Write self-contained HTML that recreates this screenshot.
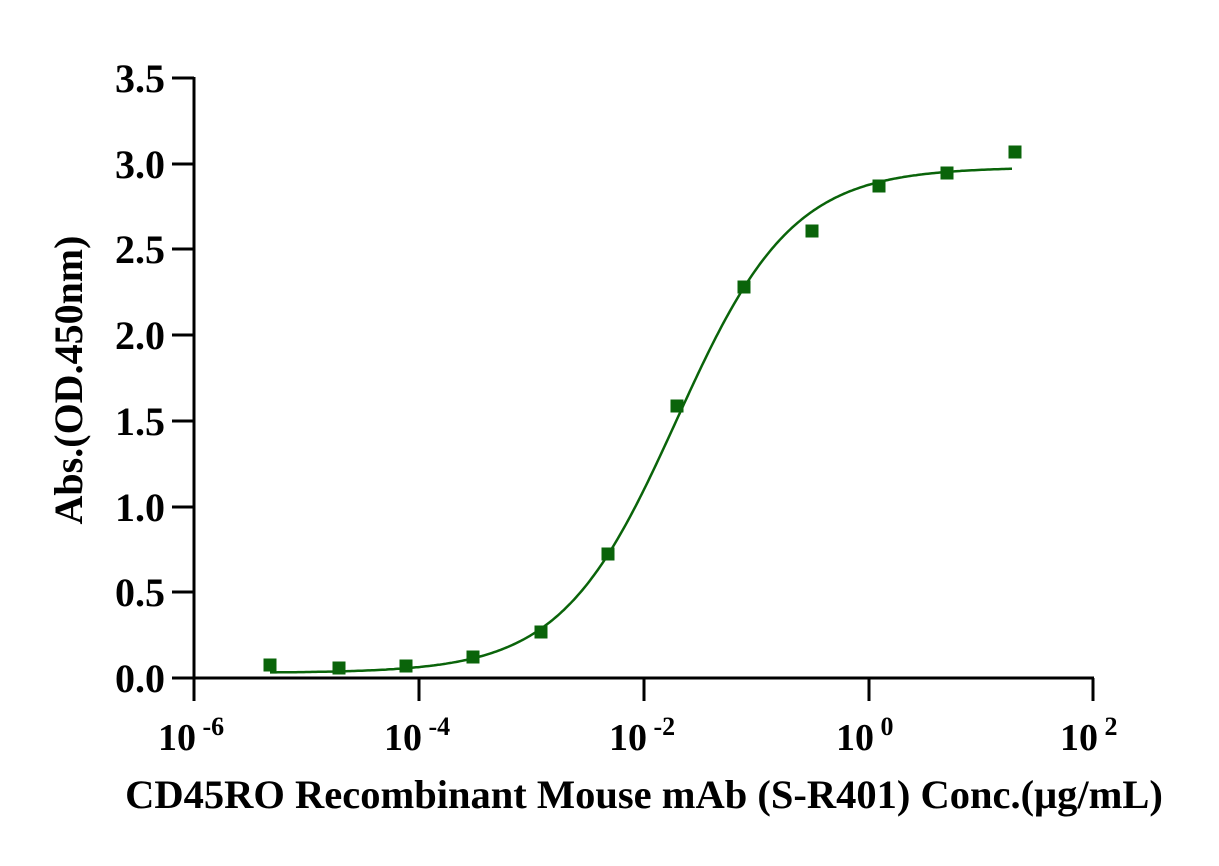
<!DOCTYPE html>
<html><head><style>
body{margin:0;background:#fff}
svg text{font-family:"Liberation Serif",serif;font-weight:bold;fill:#000}
</style></head><body>
<svg id="s" width="1219" height="861" xmlns="http://www.w3.org/2000/svg">
<g stroke="#000" stroke-width="3" fill="none">
<line x1="194" y1="77" x2="194" y2="679"/>
<line x1="193" y1="678" x2="1094" y2="678"/>
<line x1="172" y1="78" x2="194" y2="78"/>
<line x1="172" y1="164" x2="194" y2="164"/>
<line x1="172" y1="249" x2="194" y2="249"/>
<line x1="172" y1="335" x2="194" y2="335"/>
<line x1="172" y1="421" x2="194" y2="421"/>
<line x1="172" y1="507" x2="194" y2="507"/>
<line x1="172" y1="592" x2="194" y2="592"/>
<line x1="172" y1="678" x2="194" y2="678"/>
<line x1="194" y1="678" x2="194" y2="701"/>
<line x1="419" y1="678" x2="419" y2="701"/>
<line x1="644" y1="678" x2="644" y2="701"/>
<line x1="869" y1="678" x2="869" y2="701"/>
<line x1="1093" y1="678" x2="1093" y2="701"/>
</g>
<g font-size="40" text-anchor="end">
<text x="165" y="92">3.5</text><text x="165" y="178">3.0</text><text x="165" y="263">2.5</text>
<text x="165" y="349">2.0</text><text x="165" y="435">1.5</text><text x="165" y="521">1.0</text>
<text x="165" y="606">0.5</text><text x="165" y="692">0.0</text>
</g>
<g font-size="38">
<text x="158" y="750">10<tspan font-size="26" dy="-15"> -6</tspan></text>
<text x="384" y="750">10<tspan font-size="26" dy="-15"> -4</tspan></text>
<text x="609" y="750">10<tspan font-size="26" dy="-15"> -2</tspan></text>
<text x="836" y="750">10<tspan font-size="26" dy="-15"> 0</tspan></text>
<text x="1060" y="750">10<tspan font-size="26" dy="-15"> 2</tspan></text>
</g>
<text x="644" y="808" font-size="40.5" text-anchor="middle">CD45RO Recombinant Mouse mAb (S-R401) Conc.(μg/mL)</text>
<text transform="translate(82,380) rotate(-90)" font-size="40" text-anchor="middle">Abs.(OD.450nm)</text>
<path id="c" fill="none" stroke="#0a640a" stroke-width="2.5"/>
<g fill="#0a640a" id="pts"></g>
</svg>
<script>
var B=0.03,T=2.98,C=-1.71,H=0.845,d="";
function py(v){return 678-v*171.4}
for(var x=270;x<=1013;x+=2){var l=-6+(x-194)/112.5;var v=B+(T-B)/(1+Math.pow(10,(C-l)*H));d+=(d?"L":"M")+x+","+py(v).toFixed(1);}
document.getElementById("c").setAttribute("d",d);
var P=[[270,665],[339,668],[406,666],[473,657],[541,632],[608,554],[677,406],[744,287],[812,231],[879,186],[947,173],[1015,152]],g="";
P.forEach(function(p){g+='<rect x="'+(p[0]-6.5)+'" y="'+(p[1]-6.5)+'" width="13" height="13"/>';});
document.getElementById("pts").innerHTML=g;
</script>
</body></html>
